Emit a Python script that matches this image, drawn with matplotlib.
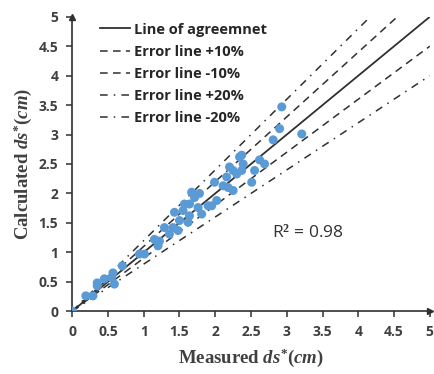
import numpy as np
import matplotlib.pyplot as plt

medido = [0.0, 0.19, 0.29, 0.35, 0.35, 0.45, 0.55, 0.57, 0.59, 0.70, 0.94, 1.01,
          1.15, 1.20, 1.22, 1.29, 1.36, 1.41, 1.43, 1.48, 1.50, 1.55, 1.57, 1.62,
          1.64, 1.67, 1.71, 1.78, 1.64, 1.76, 1.81, 1.90, 1.95, 1.99, 2.02, 2.11,
          2.16, 2.18, 2.25, 2.20, 2.25, 2.34, 2.37, 2.39, 2.37, 2.30, 2.51, 2.55,
          2.62, 2.69, 2.81, 2.90, 2.93, 3.21]
calculado = [0.0, 0.26, 0.26, 0.48, 0.43, 0.55, 0.57, 0.65, 0.46, 0.77, 0.97, 0.97,
             1.22, 1.11, 1.19, 1.42, 1.31, 1.42, 1.68, 1.37, 1.54, 1.71, 1.82, 1.51,
             1.62, 2.02, 1.93, 2.00, 1.82, 1.76, 1.65, 1.79, 1.79, 2.19, 1.88, 2.13,
             2.28, 2.10, 2.05, 2.45, 2.39, 2.62, 2.65, 2.50, 2.39, 2.33, 2.19, 2.39,
             2.57, 2.50, 2.91, 3.10, 3.47, 3.01]
fatores = [1.0, 1.1, 0.9, 1.2, 0.8]
nomes = ['Line of agreemnet', 'Error line +10%', 'Error line -10%',
         'Error line +20%', 'Error line -20%']
ticks = [0, 0.5, 1, 1.5, 2, 2.5, 3, 3.5, 4, 4.5, 5]

plt.rcParams['mathtext.fontset'] = 'custom'
plt.rcParams['mathtext.it'] = 'Liberation Serif:bold:italic'
plt.rcParams['mathtext.rm'] = 'Liberation Serif:bold'

fig = plt.figure(figsize=(4.35, 3.74), dpi=100)
ax = fig.add_axes([0.166, 0.168, 0.822, 0.787])

estilos = ['-', (0, (5, 3.5)), (0, (5, 3.5)), (0, (5, 4, 1, 4)), (0, (5, 4, 1, 4))]
xs = np.array([0, 5.0])
for f, nome, ls in zip(fatores, nomes, estilos):
    ax.plot(xs, xs * f, color='#303030', linestyle=ls, linewidth=1.3 if f == 1 else 1.1,
            label=nome, zorder=2)

ax.scatter(medido, calculado, s=42, color='#5B9BD5', edgecolors='none', zorder=3)

ax.set_xlim(0, 5)
ax.set_ylim(0, 5)
ax.set_xticks(ticks)
ax.set_yticks(ticks)
ax.set_xticklabels([f'{t:g}' for t in ticks])
ax.set_yticklabels([f'{t:g}' for t in ticks])
ax.tick_params(direction='out', length=4, width=1.1, color='#303030',
               labelsize=10, labelcolor='#404040', pad=6)
for lbl in ax.get_xticklabels() + ax.get_yticklabels():
    lbl.set_fontweight('bold')
    lbl.set_family('Open Sans')

for s in ['top', 'right']:
    ax.spines[s].set_visible(False)
for s in ['left', 'bottom']:
    ax.spines[s].set_linewidth(1.2)
    ax.spines[s].set_color('#303030')
ax.plot(1, 0, '>', color='#303030', ms=4, transform=ax.transAxes, clip_on=False)
ax.plot(0, 1, '^', color='#303030', ms=4, transform=ax.transAxes, clip_on=False)

ax.set_xlabel(r'Measured $ds^{*}(cm)$', fontsize=13.5, fontweight='bold',
              family='Liberation Serif', color='#404040', labelpad=5)
ax.set_ylabel(r'Calculated $ds^{*}(cm)$', fontsize=13.5, fontweight='bold',
              family='Liberation Serif', color='#404040', labelpad=3)

ax.text(2.8, 1.33, r'R$^2$ = 0.98', fontsize=12.5, family='Open Sans',
        color='#303030', va='center')

leg = ax.legend(loc='upper left', bbox_to_anchor=(0.04, 1.025), frameon=False,
                handlelength=2.1, handletextpad=0.25, labelspacing=0.55,
                prop={'family': 'Open Sans', 'weight': 'bold', 'size': 10.5})
for t in leg.get_texts():
    t.set_color('#262626')

fig.savefig('out.png', dpi=100)
